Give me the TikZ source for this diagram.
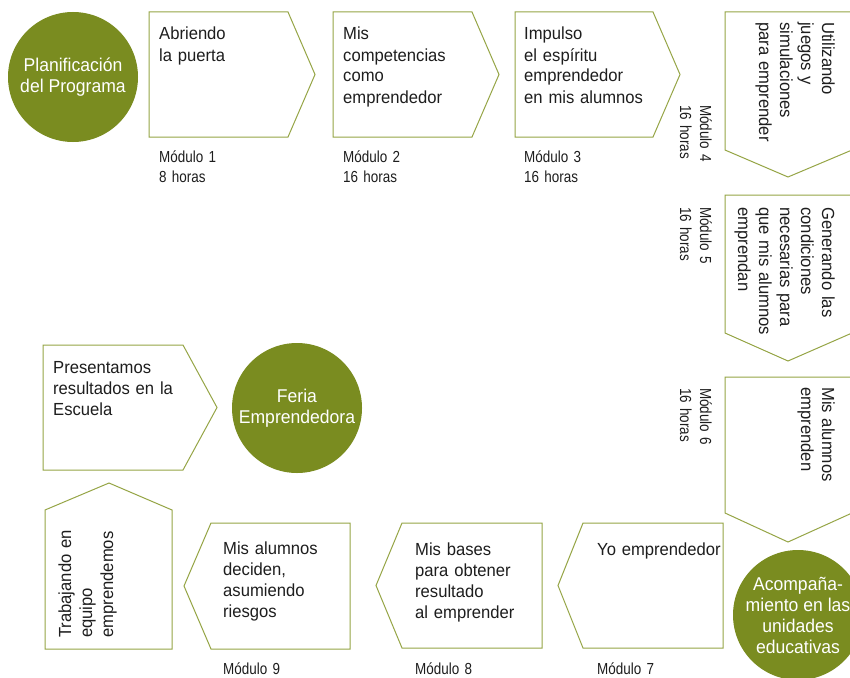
\documentclass[tikz,border=0pt]{standalone}
\usepackage{fontspec}
\setmainfont[FakeStretch=0.95]{Liberation Sans}
\newfontfamily\labfont[FakeStretch=0.84]{Liberation Sans}
\definecolor{olivefill}{RGB}{122,140,32}
\definecolor{olivestroke}{RGB}{150,165,70}
\definecolor{inktext}{RGB}{30,30,30}
\begin{document}
\begin{tikzpicture}[x=1pt,y=-1pt,
  pent/.style={draw=olivestroke,line width=1pt,fill=white},
  disc/.style={circle,fill=olivefill,draw=none,minimum size=130pt,inner sep=0pt,
    text=white,align=center,font=\fontsize{18.5}{21}\selectfont},
  boxtext/.style={anchor=base west,inner sep=0pt,text width=150pt,align=left,
    font=\fontsize{17.5}{21}\selectfont,text=inktext},
  modlabel/.style={anchor=base west,inner sep=0pt,text width=80pt,align=left,
    font=\labfont\fontsize{16}{20}\selectfont,text=inktext}]
\useasboundingbox (0,0) rectangle (850,677);
\fill[white] (0,0) rectangle (850,677);

% circles
\node[disc] (plan) at (73,77) {Planificación\\del Programa};
\node[disc] (feria) at (297,408) {Feria\\Emprendedora};
\node[disc] (acomp) at (798,615) {Acompaña-\\miento en las\\unidades\\educativas};

% top row, pointing right
\draw[pent] (149,12) -- (288,12) -- (315,74.5) -- (288,137) -- (149,137) -- cycle;
\draw[pent] (333,12) -- (472,12) -- (499,74.5) -- (472,137) -- (333,137) -- cycle;
\draw[pent] (515,12) -- (653,12) -- (680,74.5) -- (653,137) -- (515,137) -- cycle;

\node[boxtext] (t1) at (159,40) {Abriendo\\la puerta};
\node[boxtext] (t2) at (343,40) {Mis\\competencias\\como\\emprendedor};
\node[boxtext] (t3) at (524,40) {Impulso\\el espíritu\\emprendedor\\en mis alumnos};

\node[modlabel] (m1) at (159,162) {Módulo 1\\8 horas};
\node[modlabel] (m2) at (343,162) {Módulo 2\\16 horas};
\node[modlabel] (m3) at (524,162) {Módulo 3\\16 horas};

% right column, pointing down
\draw[pent] (725,12) -- (852,12) -- (852,150) -- (788,177) -- (725,150) -- cycle;
\draw[pent] (725,195) -- (852,195) -- (852,333) -- (788,361) -- (725,333) -- cycle;
\draw[pent] (725,377) -- (852,377) -- (852,513) -- (788,542) -- (725,513) -- cycle;

\node[boxtext,rotate=-90] (t4) at (822,22) {Utilizando\\juegos y\\simulaciones\\para emprender};
\node[boxtext,rotate=-90] (t5) at (822,207) {Generando las\\condiciones\\necesarias para\\que mis alumnos\\emprendan};
\node[boxtext,rotate=-90] (t6) at (822,387) {Mis alumnos\\emprenden};

\node[modlabel,rotate=-90] (m4) at (700,105) {Módulo 4\\16 horas};
\node[modlabel,rotate=-90] (m5) at (700,207) {Módulo 5\\16 horas};
\node[modlabel,rotate=-90] (m6) at (700,388) {Módulo 6\\16 horas};

% bottom row, pointing left
\draw[pent] (583,523) -- (723,523) -- (723,648) -- (583,648) -- (558,585.5) -- cycle;
\draw[pent] (402,523) -- (542,523) -- (542,648) -- (402,648) -- (376,585.5) -- cycle;
\draw[pent] (211,523) -- (350,523) -- (350,649) -- (211,649) -- (184,586) -- cycle;

\node[boxtext] (t7) at (597,555) {Yo emprendedor};
\node[boxtext] (t8) at (415,555) {Mis bases\\para obtener\\resultado\\al emprender};
\node[boxtext] (t9) at (223,554) {Mis alumnos\\deciden,\\asumiendo\\riesgos};

\node[modlabel] (m7) at (597,674) {Módulo 7};
\node[modlabel] (m8) at (415,674) {Módulo 8};
\node[modlabel] (m9) at (223,674) {Módulo 9};

% left column: pointing up
\draw[pent] (45,510) -- (109,483) -- (172,510) -- (172,649) -- (45,649) -- cycle;
\node[boxtext,rotate=90] (t10) at (71,638) {Trabajando en\\equipo\\emprendemos};

% pointing right toward Feria
\draw[pent] (43,345) -- (183,345) -- (217,407.5) -- (183,470) -- (43,470) -- cycle;
\node[boxtext] (t11) at (53,373) {Presentamos\\resultados en la\\Escuela};
\end{tikzpicture}
\end{document}
